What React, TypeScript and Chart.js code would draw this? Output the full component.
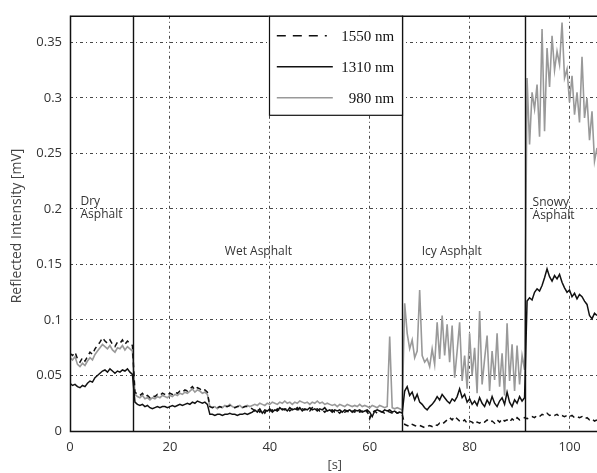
import { useEffect, useRef } from "react";
import { Chart, registerables } from "chart.js";

Chart.register(...registerables);

// Sampling step of the recorded traces (seconds)
const TIME_STEP = 0.5;

const SERIES_LABELS = ["1550 nm", "1310 nm", "980 nm"];
const X_TICKS = [0, 20, 40, 60, 80, 100];
const Y_TICKS = [0, 0.05, 0.1, 0.15, 0.2, 0.25, 0.3, 0.35];
const X_MAX = 105.5;
const Y_MAX = 0.374;

// Surface-change boundaries (s)
const REGION_BOUNDARIES = [12.7, 66.5, 91];
const REGION_NAMES = ["Dry\nAsphalt", "Wet Asphalt", "Icy Asphalt", "Snowy\nAsphalt"];

// 1550 nm (dashed black), samples every 0.5 s from t = 0
const VALUES_1550 = [
  // dry 0..12.5
  0.070, 0.068, 0.071, 0.065, 0.062, 0.066, 0.063, 0.067, 0.071, 0.069,
  0.074, 0.077, 0.080, 0.084, 0.081, 0.079, 0.082, 0.078, 0.076, 0.080,
  0.079, 0.082, 0.078, 0.081, 0.079, 0.077,
  // wet 13..27.5
  0.035, 0.033, 0.032, 0.034, 0.031, 0.032, 0.030, 0.032, 0.031, 0.033,
  0.032, 0.034, 0.033, 0.032, 0.034, 0.033, 0.035, 0.034, 0.036, 0.035,
  0.037, 0.036, 0.038, 0.040, 0.037, 0.039, 0.038, 0.036, 0.037, 0.035,
  // wet 28..36.5
  0.022, 0.021, 0.022, 0.021, 0.022, 0.021, 0.022, 0.022, 0.023, 0.022,
  0.021, 0.022, 0.022, 0.021, 0.022, 0.022, 0.021, 0.020,
  // wet 37..66.5
  0.018, 0.020, 0.017, 0.019, 0.016, 0.020, 0.018, 0.019, 0.017, 0.020,
  0.018, 0.020, 0.019, 0.021, 0.018, 0.020, 0.019, 0.021, 0.018, 0.020,
  0.019, 0.020, 0.018, 0.021, 0.019, 0.020, 0.018, 0.019, 0.017, 0.019,
  0.018, 0.019, 0.017, 0.018, 0.016, 0.019, 0.017, 0.018, 0.016, 0.018,
  0.017, 0.019, 0.017, 0.018, 0.016, 0.018, 0.011, 0.017, 0.018, 0.016,
  0.018, 0.017, 0.016, 0.018, 0.017, 0.016, 0.018, 0.016, 0.017, 0.015,
  // icy 67..91
  0.006, 0.005, 0.004, 0.006, 0.005, 0.004, 0.005, 0.004, 0.003, 0.004,
  0.005, 0.004, 0.006, 0.005, 0.007, 0.006, 0.008, 0.010, 0.012, 0.010,
  0.013, 0.011, 0.009, 0.008, 0.010, 0.007, 0.009, 0.008, 0.006, 0.008,
  0.007, 0.009, 0.008, 0.010, 0.008, 0.009, 0.007, 0.010, 0.008, 0.011,
  0.009, 0.010, 0.008, 0.011, 0.009, 0.012, 0.010, 0.011, 0.012,
  // snowy 91.5..105.5
  0.011, 0.012, 0.013, 0.012, 0.014, 0.013, 0.015, 0.014, 0.016, 0.014,
  0.015, 0.014, 0.015, 0.013, 0.014, 0.013, 0.014, 0.013, 0.014, 0.012,
  0.013, 0.012, 0.013, 0.011, 0.012, 0.010, 0.011, 0.009, 0.010,
];

// 1310 nm (solid black)
const VALUES_1310 = [
  // dry
  0.043, 0.041, 0.042, 0.040, 0.039, 0.041, 0.040, 0.043, 0.045, 0.044,
  0.048, 0.050, 0.052, 0.054, 0.055, 0.053, 0.056, 0.054, 0.052, 0.054,
  0.053, 0.055, 0.054, 0.056, 0.053, 0.051,
  // wet
  0.026, 0.024, 0.023, 0.024, 0.022, 0.023, 0.021, 0.020, 0.021, 0.022,
  0.021, 0.022, 0.022, 0.021, 0.022, 0.023, 0.022, 0.023, 0.024, 0.023,
  0.024, 0.025, 0.024, 0.026, 0.025, 0.027, 0.026, 0.025, 0.026, 0.024,
  0.015, 0.015, 0.014, 0.015, 0.015, 0.014, 0.015, 0.015, 0.016, 0.015,
  0.015, 0.014, 0.015, 0.015, 0.016, 0.015, 0.016, 0.017,
  0.019, 0.017, 0.020, 0.016, 0.019, 0.018, 0.020, 0.017, 0.019, 0.018,
  0.021, 0.019, 0.020, 0.018, 0.021, 0.019, 0.020, 0.019, 0.021, 0.018,
  0.020, 0.019, 0.021, 0.019, 0.020, 0.018, 0.020, 0.019, 0.021, 0.018,
  0.019, 0.017, 0.019, 0.018, 0.019, 0.017, 0.019, 0.018, 0.019, 0.017,
  0.019, 0.018, 0.019, 0.017, 0.018, 0.019, 0.017, 0.013, 0.018, 0.019,
  0.018, 0.017, 0.019, 0.018, 0.019, 0.017, 0.018, 0.016, 0.017, 0.016,
  // icy
  0.036, 0.040, 0.032, 0.035, 0.028, 0.033, 0.026, 0.024, 0.021, 0.019,
  0.022, 0.024, 0.027, 0.031, 0.028, 0.033, 0.030, 0.027, 0.025, 0.029,
  0.027, 0.031, 0.038, 0.030, 0.033, 0.026, 0.029, 0.024, 0.027, 0.023,
  0.030, 0.025, 0.022, 0.028, 0.024, 0.031, 0.025, 0.022, 0.027, 0.030,
  0.024, 0.035, 0.026, 0.022, 0.028, 0.025, 0.031, 0.027, 0.030,
  // snowy
  0.117, 0.120, 0.118, 0.125, 0.128, 0.126, 0.131, 0.138, 0.146, 0.139,
  0.135, 0.140, 0.137, 0.141, 0.134, 0.129, 0.125, 0.127, 0.121, 0.124,
  0.119, 0.123, 0.121, 0.117, 0.114, 0.104, 0.101, 0.106, 0.104,
];

// 980 nm (grey)
const VALUES_980 = [
  // dry
  0.066, 0.064, 0.067, 0.060, 0.058, 0.061, 0.059, 0.063, 0.066, 0.064,
  0.069, 0.072, 0.075, 0.078, 0.076, 0.074, 0.077, 0.073, 0.071, 0.075,
  0.074, 0.077, 0.073, 0.076, 0.074, 0.072,
  // wet
  0.033, 0.031, 0.030, 0.032, 0.029, 0.030, 0.028, 0.030, 0.029, 0.031,
  0.030, 0.032, 0.031, 0.030, 0.032, 0.031, 0.033, 0.032, 0.034, 0.033,
  0.035, 0.034, 0.036, 0.038, 0.035, 0.037, 0.036, 0.034, 0.035, 0.033,
  0.022, 0.021, 0.022, 0.020, 0.022, 0.021, 0.023, 0.022, 0.024, 0.022,
  0.021, 0.022, 0.023, 0.021, 0.022, 0.023, 0.022, 0.023,
  0.024, 0.023, 0.025, 0.024, 0.023, 0.025, 0.024, 0.026, 0.025, 0.024,
  0.026, 0.025, 0.027, 0.025, 0.026, 0.024, 0.026, 0.025, 0.027, 0.026,
  0.025, 0.026, 0.024, 0.026, 0.025, 0.027, 0.025, 0.026, 0.024, 0.025,
  0.024, 0.023, 0.024, 0.022, 0.024, 0.023, 0.022, 0.024, 0.023, 0.022,
  0.023, 0.022, 0.024, 0.022, 0.023, 0.022, 0.021, 0.023, 0.022, 0.021,
  0.023, 0.022, 0.021, 0.022, 0.085, 0.021, 0.020, 0.021, 0.020, 0.019,
  // icy
  0.115, 0.088, 0.074, 0.082, 0.066, 0.072, 0.127, 0.068, 0.062, 0.065,
  0.058, 0.074, 0.060, 0.098, 0.065, 0.104, 0.068, 0.096, 0.062, 0.095,
  0.048, 0.072, 0.098, 0.045, 0.068, 0.038, 0.088, 0.050, 0.075, 0.034,
  0.108, 0.042, 0.065, 0.086, 0.036, 0.072, 0.046, 0.088, 0.040, 0.070,
  0.032, 0.097, 0.045, 0.078, 0.036, 0.077, 0.042, 0.068, 0.055,
  // snowy
  0.318, 0.258, 0.305, 0.290, 0.312, 0.265, 0.362, 0.270, 0.345, 0.310,
  0.356, 0.325, 0.342, 0.330, 0.368, 0.318, 0.326, 0.296, 0.320, 0.285,
  0.305, 0.278, 0.337, 0.282, 0.300, 0.262, 0.288, 0.243, 0.255,
];

const toPoints = (vals: number[]) => vals.map((y, i) => ({ x: i * TIME_STEP, y }));

const SANS = "'Open Sans', 'DejaVu Sans', sans-serif";
const SERIF = "'Liberation Serif', 'DejaVu Serif', serif";

const decorPlugin = {
  id: "decor",
  afterDatasetsDraw(chart: any) {
    const { ctx, chartArea: a, scales } = chart;
    const xs = scales.x;
    const ys = scales.y;
    ctx.save();
    // region boundaries
    ctx.strokeStyle = "#111";
    ctx.lineWidth = 1.4;
    for (const b of REGION_BOUNDARIES) {
      const px = Math.round(xs.getPixelForValue(b)) + 0.5;
      ctx.beginPath();
      ctx.moveTo(px, a.top);
      ctx.lineTo(px, a.bottom);
      ctx.stroke();
    }
    // frame: left, top, bottom
    ctx.lineWidth = 1.5;
    ctx.strokeStyle = "#111";
    ctx.beginPath();
    ctx.moveTo(a.right + 2, a.top + 0.5);
    ctx.lineTo(a.left + 0.5, a.top + 0.5);
    ctx.lineTo(a.left + 0.5, a.bottom + 0.5);
    ctx.lineTo(a.right + 2, a.bottom + 0.5);
    ctx.stroke();

    // region labels
    ctx.fillStyle = "#333";
    ctx.font = `12px ${SANS}`;
    ctx.textAlign = "left";
    ctx.textBaseline = "middle";
    const labelPos = [
      [2.1, 0.207],
      [31.0, 0.162],
      [70.4, 0.162],
      [92.6, 0.206],
    ];
    REGION_NAMES.forEach((name, i) => {
      const lx = xs.getPixelForValue(labelPos[i][0]);
      const ly = ys.getPixelForValue(labelPos[i][1]);
      name.split("\n").forEach((line, k) => {
        ctx.fillText(line, lx, ly + k * 13);
      });
    });

    // legend box
    const lx0 = xs.getPixelForValue(39.8);
    const lx1 = xs.getPixelForValue(66.5);
    const ly0 = a.top;
    const ly1 = a.top + 99;
    ctx.fillStyle = "#fff";
    ctx.fillRect(lx0, ly0, lx1 - lx0, ly1 - ly0);
    ctx.strokeStyle = "#111";
    ctx.lineWidth = 1.2;
    ctx.strokeRect(Math.round(lx0) + 0.5, ly0 + 0.5, Math.round(lx1 - lx0), ly1 - ly0);
    const ds = chart.data.datasets;
    const rowY = [20, 51, 82];
    ctx.font = `15px ${SERIF}`;
    ctx.textAlign = "right";
    ctx.textBaseline = "middle";
    SERIES_LABELS.forEach((lab, i) => {
      const y = a.top + rowY[i];
      ctx.strokeStyle = ds[i].borderColor;
      ctx.lineWidth = i === 2 ? 1.6 : 1.4;
      ctx.setLineDash(i === 0 ? [9, 7] : []);
      ctx.beginPath();
      ctx.moveTo(lx0 + 8, y);
      ctx.lineTo(lx0 + (i === 0 ? 58 : 64), y);
      ctx.stroke();
      ctx.setLineDash([]);
      ctx.fillStyle = "#111";
      ctx.fillText(lab, lx1 - 8, y + 1);
    });

    // y-axis title
    ctx.save();
    ctx.translate(17, 226);
    ctx.rotate(-Math.PI / 2);
    ctx.textAlign = "center";
    ctx.textBaseline = "middle";
    ctx.font = `14px ${SANS}`;
    ctx.fillStyle = "#444";
    ctx.fillText("Reflected Intensity [mV]", 0, 0);
    ctx.restore();

    // x-axis title
    ctx.textAlign = "center";
    ctx.textBaseline = "middle";
    ctx.font = `13px ${SANS}`;
    ctx.fillStyle = "#444";
    ctx.fillText("[s]", xs.getPixelForValue(53), 465);
    ctx.restore();
  },
};

export default function App() {
  const ref = useRef<HTMLCanvasElement | null>(null);
  useEffect(() => {
    document.body.style.margin = "0";
    const canvas = ref.current;
    if (!canvas) return;
    const gridDash = [3, 3, 1, 3];
    const gridColor = "rgba(0,0,0,0.72)";
    const chart = new Chart(canvas, {
      type: "line",
      data: {
        datasets: [
          {
            label: SERIES_LABELS[0],
            data: toPoints(VALUES_1550),
            borderColor: "#111",
            borderWidth: 1.5,
            borderDash: [5, 4],
            pointRadius: 0,
            tension: 0,
          },
          {
            label: SERIES_LABELS[1],
            data: toPoints(VALUES_1310),
            borderColor: "#111",
            borderWidth: 1.5,
            pointRadius: 0,
            tension: 0,
          },
          {
            label: SERIES_LABELS[2],
            data: toPoints(VALUES_980),
            borderColor: "#999",
            borderWidth: 1.6,
            pointRadius: 0,
            tension: 0,
          },
        ],
      },
      options: {
        animation: false,
        responsive: false,
        layout: { padding: { top: 14, left: 0, right: 0, bottom: 0 } },
        plugins: { legend: { display: false }, tooltip: { enabled: false } },
        scales: {
          x: {
            type: "linear",
            min: 0,
            max: X_MAX,
            afterBuildTicks: (s: any) => {
              s.ticks = X_TICKS.map((v) => ({ value: v }));
            },
            afterFit: (s: any) => {
              s.height = 42;
            },
            grid: { color: gridColor, lineWidth: 1, drawTicks: false },
            border: { display: false, dash: gridDash },
            ticks: {
              color: "#333",
              font: { family: SANS, size: 13 },
              padding: 8,
              maxRotation: 0,
              callback: (v: any) => String(v),
            },
          },
          y: {
            type: "linear",
            min: 0,
            max: Y_MAX,
            afterBuildTicks: (s: any) => {
              s.ticks = Y_TICKS.map((v) => ({ value: v }));
            },
            afterFit: (s: any) => {
              s.width = 70;
            },
            grid: { color: gridColor, lineWidth: 1, drawTicks: false },
            border: { display: false, dash: gridDash },
            ticks: {
              color: "#333",
              font: { family: SANS, size: 13 },
              padding: 8,
              callback: (v: any) => String(Number(Number(v).toFixed(2))),
            },
          },
        },
      },
      plugins: [decorPlugin],
    } as any);
    return () => chart.destroy();
  }, []);
  return (
    <div style={{ width: 597, height: 473, background: "#fff" }}>
      <canvas ref={ref} width={597} height={473} style={{ display: "block" }} />
    </div>
  );
}
